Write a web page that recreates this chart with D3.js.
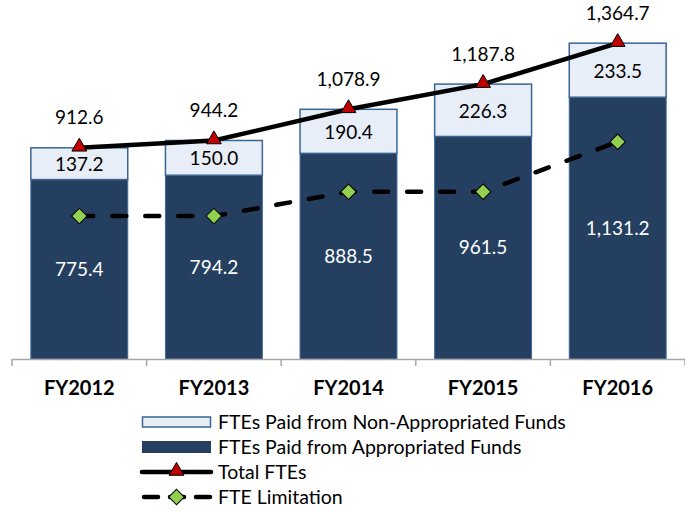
<!DOCTYPE html>
<html>
<head>
<meta charset="utf-8">
<script src="https://cdn.jsdelivr.net/npm/d3@7"></script>
<style>
  body { margin: 0; background: #fff; }
  text { font-family: Lato, "Open Sans", sans-serif; }
</style>
</head>
<body>
<div id="chart"></div>
<script>
// FTE chart, FY2012-FY2016
var years = ["FY2012", "FY2013", "FY2014", "FY2015", "FY2016"];
var appropriated = [775.4, 794.2, 888.5, 961.5, 1131.2];
var nonAppropriated = [137.2, 150.0, 190.4, 226.3, 233.5];
var totals = [912.6, 944.2, 1078.9, 1187.8, 1364.7];
var limitation = [617.5, 617.5, 722.5, 722.5, 938.5];
var legendLabels = ["FTEs Paid from Non-Appropriated Funds", "FTEs Paid from Appropriated Funds", "Total FTEs", "FTE Limitation"];

var W = 685, H = 511;
var darkBlue = "#243F60", lightBlue = "#E8EEF7";
var fmt = d3.format(",.1f");

var svg = d3.select("#chart").append("svg")
    .attr("width", W).attr("height", H);

var x = d3.scaleBand().domain(years).range([12, 685])
    .paddingInner(0.28).paddingOuter(0.14);
var y = d3.scaleLinear().domain([0, 1400]).range([359, 35]);

var rows = years.map(function(yr, i) {
    return { year: yr, app: appropriated[i], non: nonAppropriated[i], total: totals[i], lim: limitation[i] };
});

// bars - appropriated part
svg.append("g").selectAll("rect").data(rows).enter().append("rect")
    .attr("x", function(d) { return x(d.year); })
    .attr("y", function(d) { return y(d.app); })
    .attr("width", x.bandwidth())
    .attr("height", function(d) { return y(0) - y(d.app); })
    .attr("fill", darkBlue)
    .attr("stroke", "#3F6A9A").attr("stroke-width", 1);

// bars - non appropriated part on top
svg.append("g").selectAll("rect").data(rows).enter().append("rect")
    .attr("x", function(d) { return x(d.year); })
    .attr("y", function(d) { return y(d.app + d.non); })
    .attr("width", x.bandwidth())
    .attr("height", function(d) { return y(d.app) - y(d.app + d.non); })
    .attr("fill", lightBlue)
    .attr("stroke", "#3A6593").attr("stroke-width", 1.5);

// x axis
var xAxis = d3.axisBottom(x).tickSize(0).tickPadding(22).tickFormat(function(d) { return d; });
var gx = svg.append("g").attr("transform", "translate(0," + y(0) + ")").call(xAxis);
gx.select(".domain").attr("stroke", "#A6A6A6").attr("stroke-width", 1.5);
gx.selectAll("text").attr("font-size", 20).attr("font-weight", "bold").attr("fill", "#000")
    .attr("font-family", "Lato, sans-serif");
// boundary ticks between categories
var edges = d3.range(years.length + 1).map(function(i) { return x.range()[0] + i * x.step(); });
gx.selectAll(".edge").data(edges).enter().append("line")
    .attr("x1", function(d) { return d; }).attr("x2", function(d) { return d; })
    .attr("y1", 0).attr("y2", 7)
    .attr("stroke", "#A6A6A6").attr("stroke-width", 1.5);

var cx = function(d) { return x(d.year) + x.bandwidth() / 2; };

// value labels in bars
svg.append("g").selectAll("text").data(rows).enter().append("text")
    .attr("x", cx)
    .attr("y", function(d) { return (y(0) + y(d.app)) / 2; })
    .attr("dy", "0.35em").attr("text-anchor", "middle")
    .attr("font-size", 19).attr("fill", "#fff")
    .text(function(d) { return fmt(d.app); });

svg.append("g").selectAll("text").data(rows).enter().append("text")
    .attr("x", cx)
    .attr("y", function(d) { return (y(d.app) + y(d.app + d.non)) / 2 + 1; })
    .attr("dy", "0.35em").attr("text-anchor", "middle")
    .attr("font-size", 19).attr("fill", "#000")
    .text(function(d) { return fmt(d.non); });

// FTE limitation dashed line
var limLine = d3.line().x(cx).y(function(d) { return y(d.lim); });
svg.append("path").datum(rows).attr("d", limLine)
    .attr("fill", "none").attr("stroke", "#000").attr("stroke-width", 4.5)
    .attr("stroke-dasharray", "14,19").attr("stroke-linecap", "round");

// total line
var totLine = d3.line().x(cx).y(function(d) { return y(d.total); });
svg.append("path").datum(rows).attr("d", totLine)
    .attr("fill", "none").attr("stroke", "#000").attr("stroke-width", 4.5);

var triangle = d3.symbol().type(d3.symbolTriangle).size(95);
var diamond = d3.symbol().type(d3.symbolSquare).size(120);

svg.append("g").selectAll("path").data(rows).enter().append("path")
    .attr("d", diamond)
    .attr("transform", function(d) { return "translate(" + cx(d) + "," + y(d.lim) + ") rotate(45)"; })
    .attr("fill", "#92D050").attr("stroke", "#000").attr("stroke-width", 1);

svg.append("g").selectAll("path").data(rows).enter().append("path")
    .attr("d", triangle)
    .attr("transform", function(d) { return "translate(" + cx(d) + "," + (y(d.total) - 1) + ")"; })
    .attr("fill", "#C00000").attr("stroke", "#000").attr("stroke-width", 1);

// total labels
svg.append("g").selectAll("text").data(rows).enter().append("text")
    .attr("x", cx)
    .attr("y", function(d) { return y(d.total) - 30; })
    .attr("dy", "0.35em").attr("text-anchor", "middle")
    .attr("font-size", 19).attr("fill", "#000")
    .text(function(d) { return fmt(d.total); });

// legend
var lg = svg.append("g").attr("transform", "translate(142,0)");
var ly = [422, 447, 472, 497];
lg.append("rect").attr("x", 0.5).attr("y", ly[0] - 5).attr("width", 68).attr("height", 10)
    .attr("fill", lightBlue).attr("stroke", "#3A6593").attr("stroke-width", 1.5);
lg.append("rect").attr("x", 0).attr("y", ly[1] - 6).attr("width", 69).attr("height", 12)
    .attr("fill", darkBlue);
lg.append("line").attr("x1", 0).attr("x2", 69).attr("y1", ly[2]).attr("y2", ly[2])
    .attr("stroke", "#000").attr("stroke-width", 4.5).attr("stroke-linecap", "round");
lg.append("path").attr("d", triangle).attr("transform", "translate(34.5," + (ly[2] - 1) + ")")
    .attr("fill", "#C00000").attr("stroke", "#000");
lg.append("line").attr("x1", 2).attr("x2", 68).attr("y1", ly[3]).attr("y2", ly[3])
    .attr("stroke", "#000").attr("stroke-width", 4.5).attr("stroke-linecap", "round")
    .attr("stroke-dasharray", "14,12");
lg.append("path").attr("d", diamond).attr("transform", "translate(34.5," + ly[3] + ") rotate(45)")
    .attr("fill", "#92D050").attr("stroke", "#000");

lg.selectAll("text.lbl").data(legendLabels).enter().append("text")
    .attr("class", "lbl")
    .attr("x", 76).attr("y", function(d, i) { return ly[i]; })
    .attr("dy", "0.35em").attr("font-size", 19.5).attr("fill", "#000")
    .text(function(d) { return d; });
</script>
</body>
</html>
